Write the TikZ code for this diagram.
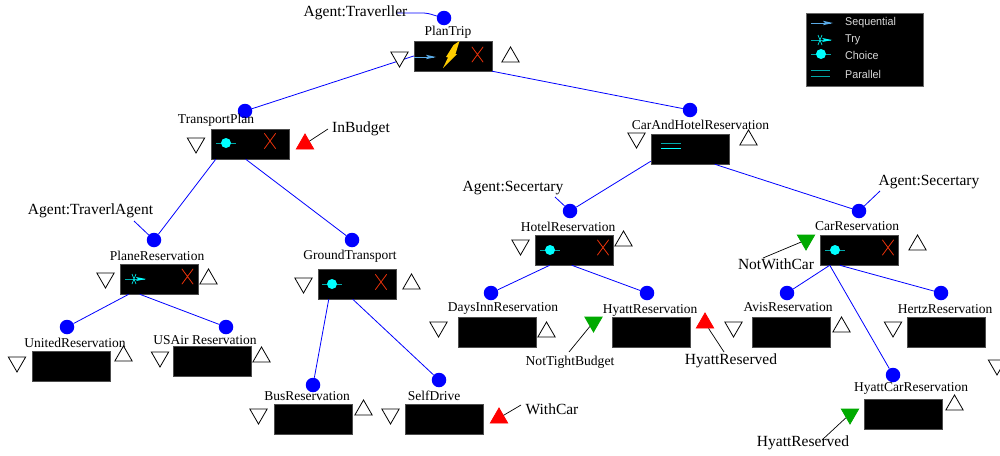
\documentclass[tikz,border=0pt]{standalone}
\usepackage{fontspec}
\setmainfont{Liberation Serif}
\setsansfont{Liberation Sans}
\usetikzlibrary{shapes.geometric,shapes.misc,arrows.meta}
\definecolor{dotblue}{RGB}{0,0,255}
\definecolor{xred}{RGB}{235,50,10}
\definecolor{mygreen}{RGB}{0,170,0}
\definecolor{seqblue}{RGB}{90,170,230}
\definecolor{mycyan}{RGB}{0,255,255}
\definecolor{midcyan}{RGB}{0,170,170}
\definecolor{boltyellow}{RGB}{255,205,0}
\tikzset{
 dotnode/.style={circle,fill=dotblue,inner sep=0pt,minimum size=14.5pt},
 taskbox/.style={rectangle,fill=black,draw=black!70,line width=.5pt,minimum width=78pt,minimum height=30pt,inner sep=0pt},
 conn/.style={draw=dotblue,line width=.8pt},
 annot/.style={draw=black,line width=.7pt},
 tridown/.style={regular polygon,regular polygon sides=3,shape border rotate=180,inner sep=0pt,minimum size=20pt,draw=black,line width=.8pt,fill=white},
 triup/.style={regular polygon,regular polygon sides=3,inner sep=0pt,minimum size=20pt,draw=black,line width=.8pt,fill=white},
 redup/.style={triup,fill=red,draw=red},
 greendown/.style={tridown,fill=mygreen,draw=mygreen},
 namelabel/.style={inner sep=0pt,font=\fontsize{13.5}{14}\selectfont},
 biglabel/.style={inner sep=0pt,font=\fontsize{15.5}{16}\selectfont},
 smalllabel/.style={inner sep=0pt,font=\fontsize{13.6}{14}\selectfont},
 legendtext/.style={inner sep=0pt,anchor=west,text=black!15,font=\sffamily\fontsize{11.3}{12}\selectfont,xscale=.95},
 crossmark/.style={cross out,draw=xred,line width=.8pt,minimum width=10.5pt,minimum height=14.5pt,inner sep=0pt},
}
\newcommand{\choicesym}[2]{%
 \draw[midcyan,line width=.8pt] (#1-10,#2) -- (#1+10,#2);
 \fill[mycyan] (#1,#2) circle (5pt);}
\newcommand{\trysym}[2]{%
 \draw[midcyan,line width=.8pt] (#1-10,#2) -- (#1+10,#2);
 \draw[mycyan,line width=.6pt] (#1-3,#2-5) -- (#1+1,#2+5) (#1+1,#2-5) -- (#1-3,#2+5);
 \fill[mycyan] (#1+11,#2) -- (#1+1,#2-2) -- (#1+3,#2) -- (#1+1,#2+2) -- cycle;}
\newcommand{\seqsym}[2]{%
 \draw[seqblue,line width=.8pt] (#1-11,#2) -- (#1+9,#2);
 \fill[seqblue] (#1+11,#2) -- (#1+1,#2-2.2) -- (#1+3,#2) -- (#1+1,#2+2.2) -- cycle;}
\begin{document}
\begin{tikzpicture}[x=1pt,y=-1pt]
\useasboundingbox (0,0) rectangle (1000,455);
\clip (0,0) rectangle (1000,455);
% boxes
\node[taskbox] (bPlan) at (453,56) {};
\node[taskbox] (bTrans) at (250,144) {};
\node[taskbox] (bCH) at (690,149) {};
\node[taskbox] (bPlane) at (159,279) {};
\node[taskbox] (bGround) at (357,284) {};
\node[taskbox] (bHotel) at (574,250) {};
\node[taskbox] (bCar) at (859,250) {};
\node[taskbox] (bUnited) at (71,366) {};
\node[taskbox] (bUSAir) at (212,361) {};
\node[taskbox] (bBus) at (313,419) {};
\node[taskbox] (bSelf) at (444,419) {};
\node[taskbox] (bDays) at (497,332) {};
\node[taskbox] (bHyatt) at (651,332) {};
\node[taskbox] (bAvis) at (791,332) {};
\node[taskbox] (bHertz) at (946,332) {};
\node[taskbox] (bHCar) at (903,414) {};
% dots
\node[dotnode] (dPlan) at (444,18) {};
\node[dotnode] (dTrans) at (245,111) {};
\node[dotnode] (dCH) at (690,110) {};
\node[dotnode] (dPlane) at (154,240) {};
\node[dotnode] (dGround) at (352,240) {};
\node[dotnode] (dHotel) at (570,211) {};
\node[dotnode] (dCar) at (859,211) {};
\node[dotnode] (dUnited) at (67,327) {};
\node[dotnode] (dUSAir) at (226,327) {};
\node[dotnode] (dBus) at (313,385) {};
\node[dotnode] (dSelf) at (439,380) {};
\node[dotnode] (dDays) at (491,293) {};
\node[dotnode] (dHyatt) at (647,293) {};
\node[dotnode] (dAvis) at (787,293) {};
\node[dotnode] (dHertz) at (941,293) {};
\node[dotnode] (dHCar) at (893,375) {};
% connectors
\draw[conn] (bPlan.west) -- (dTrans);
\draw[conn] (bPlan.south east) -- (dCH);
\draw[conn] ([xshift=5pt]bTrans.south west) -- (dPlane);
\draw[conn] ([xshift=35pt]bTrans.south west) -- (dGround);
\draw[conn] ([xshift=9pt]bPlane.south west) -- (dUnited);
\draw[conn] ([xshift=20pt]bPlane.south west) -- (dUSAir);
\draw[conn] ([xshift=11pt]bGround.south west) -- (dBus);
\draw[conn] ([xshift=35pt]bGround.south west) -- (dSelf);
\draw[conn] ([yshift=3pt]bCH.south west) -- (dHotel);
\draw[conn] ([xshift=64pt]bCH.south west) -- (dCar);
\draw[conn] ([xshift=15pt]bHotel.south west) -- (dDays);
\draw[conn] ([xshift=37pt]bHotel.south west) -- (dHyatt);
\draw[conn] ([xshift=10pt]bCar.south west) -- (dAvis);
\draw[conn] ([xshift=10pt]bCar.south west) -- (dHCar);
\draw[conn] ([xshift=20pt]bCar.south west) -- (dHertz);
% triangles
\node[tridown] (p1) at (399.5,57) {};
\node[triup] (p2) at (510.5,57) {};
\node[tridown] (t1) at (196,143) {};
\node[redup] (t2) at (305,144) {};
\node[tridown] (c1) at (636.5,138) {};
\node[triup] (c2) at (748.5,140) {};
\node[tridown] (pl1) at (105.5,278) {};
\node[triup] (pl2) at (208.5,279) {};
\node[tridown] (g1) at (303.5,283) {};
\node[triup] (g2) at (411.5,284) {};
\node[tridown] (h1) at (520.5,245) {};
\node[triup] (h2) at (623.5,241) {};
\node[greendown] (ca1) at (806,240) {};
\node[triup] (ca2) at (917.5,245) {};
\node[tridown] (u1) at (17,362) {};
\node[triup] (u2) at (123.5,356) {};
\node[tridown] (ua1) at (160,357) {};
\node[triup] (ua2) at (261.5,357) {};
\node[tridown] (bu1) at (258.5,414) {};
\node[triup] (bu2) at (363.5,410) {};
\node[tridown] (s1) at (390.5,414) {};
\node[redup] (s2) at (499,418) {};
\node[tridown] (d1) at (438.5,327) {};
\node[triup] (d2) at (546.5,332) {};
\node[greendown] (hy1) at (593.5,322) {};
\node[redup] (hy2) at (705,323) {};
\node[tridown] (a1) at (733.5,327) {};
\node[triup] (a2) at (841.5,327) {};
\node[tridown] (he1) at (893,327) {};
\node[tridown] (he2) at (997,365) {};
\node[greendown] (hc1) at (850,414) {};
\node[triup] (hc2) at (954.5,405) {};
% annotation lines
\coordinate (aTrav) at (396,13);
\coordinate (aTA) at (134,221);
\coordinate (aSec1) at (555,197);
\coordinate (aSec2) at (880,191);
\coordinate (aBudget) at (328,129);
\coordinate (aNotCar) at (763,258);
\coordinate (aTight) at (569,352);
\coordinate (aHyR) at (724,352);
\coordinate (aWith) at (521,405);
\coordinate (aHyC) at (822,440);
\draw[conn] (aTrav) -- (424,13) .. controls (430,13.5) and (433,15) .. (dPlan);
\draw[conn] (aTA) -- (dPlane);
\draw[conn] (aSec1) -- (dHotel);
\draw[conn] (aSec2) -- (dCar);
\draw[annot] (aBudget) -- (t2);
\draw[annot] (aNotCar) -- (ca1);
\draw[annot] (aTight) -- (hy1);
\draw[annot] (aHyR) -- (hy2);
\draw[annot] (aWith) -- (s2);
\draw[annot] (aHyC) -- (hc1);
% box symbols
\seqsym{425}{57}
\fill[boltyellow] (459.5,41) -- (455.5,54) -- (457,54) -- (443,68) -- (448,57.5) -- (446,57) -- (453.5,45) -- cycle;
\node[crossmark] (xPlan) at (477.5,54.5) {};
\choicesym{226}{143}
\node[crossmark] (xTrans) at (270,141) {};
\trysym{135}{279}
\node[crossmark] (xPlane) at (187.5,276.5) {};
\choicesym{332}{284}
\node[crossmark] (xGround) at (381,282) {};
\choicesym{550}{250}
\node[crossmark] (xHotel) at (603,247.5) {};
\choicesym{835}{250}
\node[crossmark] (xCar) at (888,247.5) {};
\draw[midcyan,line width=.8pt] ([xshift=10pt,yshift=6pt]bCH.west) -- +(20,0);
\draw[mycyan,line width=.8pt] ([xshift=10pt,yshift=1pt]bCH.west) -- +(20,0);
% names
\node[namelabel] (nPlan) at (448,32) {PlanTrip};
\node[namelabel] (nTrans) at (216,120) {TransportPlan};
\node[namelabel] (nCH) at (700.5,125) {CarAndHotelReservation};
\node[namelabel] (nPlane) at (157,256) {PlaneReservation};
\node[namelabel] (nGround) at (350,256) {GroundTransport};
\node[namelabel] (nHotel) at (568,227) {HotelReservation};
\node[namelabel] (nCar) at (857,226) {CarReservation};
\node[namelabel] (nUnited) at (75,343) {UnitedReservation};
\node[namelabel] (nUSAir) at (205,340) {USAir Reservation};
\node[namelabel] (nBus) at (307,396) {BusReservation};
\node[namelabel] (nSelf) at (434,396) {SelfDrive};
\node[namelabel] (nDays) at (503,308) {DaysInnReservation};
\node[namelabel] (nHyatt) at (650,310) {HyattReservation};
\node[namelabel] (nAvis) at (788,307) {AvisReservation};
\node[namelabel] (nHertz) at (945,309) {HertzReservation};
\node[namelabel] (nHCar) at (911,388) {HyattCarReservation};
% free labels
\node[biglabel] (lTrav) at (355.5,13) {Agent:Traverller};
\node[biglabel] (lBudget) at (361,129) {InBudget};
\node[biglabel] (lTA) at (90.5,211) {Agent:TraverlAgent};
\node[biglabel] (lSec1) at (513,188) {Agent:Secertary};
\node[biglabel] (lSec2) at (929,182) {Agent:Secertary};
\node[biglabel] (lNWC) at (776,264) {NotWithCar};
\node[smalllabel] (lTight) at (570,362) {NotTightBudget};
\node[biglabel] (lHyR) at (731,361) {HyattReserved};
\node[biglabel] (lWith) at (552,409) {WithCar};
\node[biglabel] (lHyC) at (803,443) {HyattReserved};
% legend
\node[rectangle,fill=black,draw=black!60,line width=.4pt,minimum width=117pt,minimum height=73pt,inner sep=0pt] (legend) at (864.5,49.5) {};
\seqsym{822}{23}
\trysym{821}{40}
\choicesym{821}{54}
\draw[midcyan,line width=.8pt] ([xshift=5pt,yshift=-21pt]legend.west) -- +(19,0);
\draw[midcyan,line width=.8pt] ([xshift=5pt,yshift=-27pt]legend.west) -- +(19,0);
\node[legendtext] (tSeq) at (845,23) {Sequential};
\node[legendtext] (tTry) at (845,40) {Try};
\node[legendtext] (tCho) at (845,55) {Choice};
\node[legendtext] (tPar) at (845,74) {Parallel};
\end{tikzpicture}
\end{document}
